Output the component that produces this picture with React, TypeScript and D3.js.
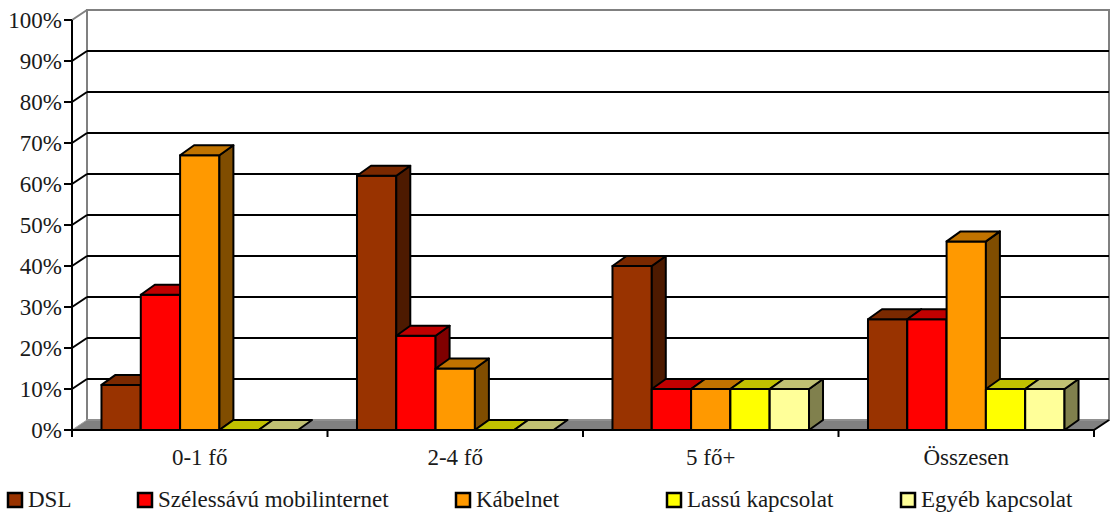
import React from "react";
import * as d3 from "d3";

// Household internet connection types by household size
const categories = ["0-1 fő", "2-4 fő", "5 fő+", "Összesen"];
const seriesNames = ["DSL", "Szélessávú mobilinternet", "Kábelnet", "Lassú kapcsolat", "Egyéb kapcsolat"];
const dsl = [11, 62, 40, 27];
const mobile = [33, 23, 10, 27];
const cable = [67, 15, 10, 46];
const slow = [0, 0, 10, 10];
const other = [0, 0, 10, 10];
const yTicks = [0, 10, 20, 30, 40, 50, 60, 70, 80, 90, 100];

const seriesValues = [dsl, mobile, cable, slow, other];
const frontColors = ["#993300", "#FF0000", "#FF9900", "#FFFF00", "#FFFF99"];
const topColors = ["#7A2900", "#C00000", "#C07300", "#C0C000", "#C0C073"];
const sideColors = ["#4D1A00", "#800000", "#804D00", "#808000", "#80804D"];
const legendX = [7, 137, 455, 666, 900];

const W = 1117;
const H = 515;
const left = 72;
const right = 1094;
const base = 430;
const topY = 20;
const wallDx = 15;
const wallDy = 10;
const barDx = 14;
const barDy = 10;
const FONT = "Liberation Serif";
const FS = 23;

export default function App() {
  const y = d3.scaleLinear().domain([0, 100]).range([base, topY]);
  const x = d3.scaleBand<string>().domain(categories).range([left, right]).padding(0);
  const catW = x.bandwidth();
  const gap = (catW / 6.5) * 0.75;

  const pts = (p: [number, number][]) => p.map((q) => q.join(",")).join(" ");

  const bars: React.ReactNode[] = [];
  categories.forEach((c, ci) => {
    const inner = d3
      .scaleBand<number>()
      .domain(d3.range(seriesNames.length))
      .range([(x(c) as number) + gap, (x(c) as number) + catW - gap]);
    const bw = inner.bandwidth();
    seriesValues.forEach((vals, si) => {
      const v = vals[ci];
      const x0 = inner(si) as number;
      const x1 = x0 + bw;
      const yv = y(v);
      const key = `${ci}-${si}`;
      const style = { stroke: "#000", strokeWidth: 2, strokeLinejoin: "round" as const };
      if (v > 0) {
        bars.push(
          <rect key={key + "f"} x={x0} y={yv} width={bw} height={base - yv} fill={frontColors[si]} {...style} />
        );
        bars.push(
          <polygon
            key={key + "s"}
            points={pts([
              [x1, yv],
              [x1 + barDx, yv - barDy],
              [x1 + barDx, base - barDy],
              [x1, base],
            ])}
            fill={sideColors[si]}
            {...style}
          />
        );
      }
      bars.push(
        <polygon
          key={key + "t"}
          points={pts([
            [x0, yv],
            [x0 + barDx, yv - barDy],
            [x1 + barDx, yv - barDy],
            [x1, yv],
          ])}
          fill={topColors[si]}
          {...style}
        />
      );
    });
  });

  const catEdges = [...categories.map((c) => x(c) as number), right];

  return (
    <svg width={W} height={H} style={{ position: "absolute", left: 0, top: 0, background: "#fff" }}>
      {/* back wall and side wall outline */}
      <rect x={left + wallDx} y={topY - wallDy} width={right - left} height={base - topY} fill="#fff" stroke="#808080" strokeWidth={2} />
      <polyline points={pts([[left, topY], [left + wallDx, topY - wallDy]])} fill="none" stroke="#808080" strokeWidth={2} />

      {/* gridlines */}
      {yTicks.slice(1, -1).map((t) => (
        <g key={t}>
          <line x1={left + wallDx} x2={right + wallDx} y1={y(t) - wallDy} y2={y(t) - wallDy} stroke="#000" strokeWidth={2} />
          <line x1={left} x2={left + wallDx} y1={y(t)} y2={y(t) - wallDy} stroke="#000" strokeWidth={2} />
        </g>
      ))}

      {/* floor */}
      <polygon
        points={pts([
          [left, base],
          [right, base],
          [right + wallDx, base - wallDy],
          [left + wallDx, base - wallDy],
        ])}
        fill="#808080"
        stroke="#a0a0a0"
        strokeWidth={1}
      />
      <line x1={right} y1={base} x2={right + wallDx} y2={base - wallDy} stroke="#000" strokeWidth={2} />

      {bars}

      {/* axes */}
      <line x1={left} x2={left} y1={topY} y2={base + 7} stroke="#000" strokeWidth={2} />
      <line x1={left} x2={right} y1={base} y2={base} stroke="#000" strokeWidth={2} />
      <g fontFamily={FONT} fontSize={FS} fill="#1a1a1a">
        {yTicks.map((t) => (
          <g key={t}>
            <line x1={left - 8} x2={left} y1={y(t)} y2={y(t)} stroke="#000" strokeWidth={2} />
            <text x={62} y={y(t) + 8} textAnchor="end">
              {t}%
            </text>
          </g>
        ))}
        {catEdges.map((e, i) => (
          <line key={i} x1={e} x2={e} y1={base} y2={base + 7} stroke="#000" strokeWidth={2} />
        ))}
        {categories.map((c) => (
          <text key={c} x={(x(c) as number) + catW / 2} y={465} textAnchor="middle">
            {c}
          </text>
        ))}

        {/* legend */}
        {seriesNames.map((n, i) => (
          <g key={n}>
            <rect x={legendX[i] + 1} y={493} width={14} height={14} fill={frontColors[i]} stroke="#000" strokeWidth={2.5} />
            <text x={legendX[i] + 21} y={507}>
              {n}
            </text>
          </g>
        ))}
      </g>
    </svg>
  );
}
